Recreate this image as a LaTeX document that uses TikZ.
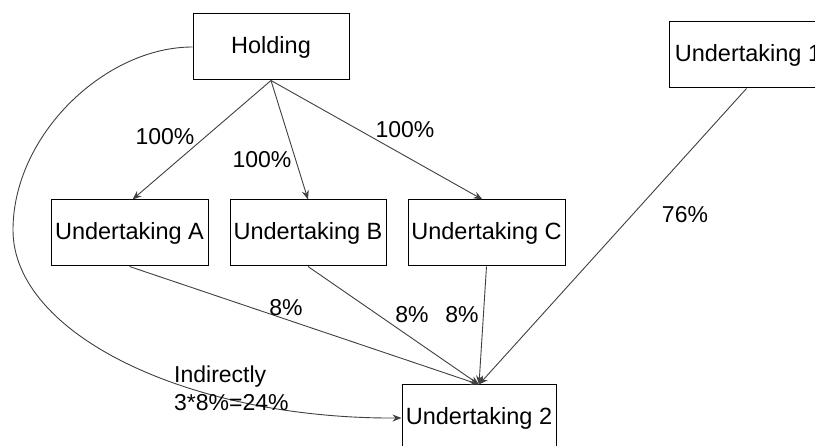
\documentclass[tikz,border=0pt]{standalone}
\usepackage{fontspec}
\setmainfont{Liberation Sans}
\usetikzlibrary{arrows.meta}
\begin{document}
\begin{tikzpicture}[x=1pt,y=-1pt,
  box/.style={draw=black,line width=1pt,minimum height=66pt,inner sep=0pt,font=\fontsize{23.5}{28}\selectfont},
  conn/.style={draw=black!75,line width=0.9pt,-{Stealth[length=9pt,width=7pt]}},
  lbl/.style={inner sep=0pt,font=\fontsize{23}{28}\selectfont}]
\useasboundingbox (0,0) rectangle (815,446);
\clip (0,0) rectangle (815,446);
\fill[white] (0,0) rectangle (815,446);
\node[box,minimum width=156pt] (H) at (271,47) {Holding};
\node[box,minimum width=158pt] (U1) at (748,55) {Undertaking 1};
\node[box,minimum width=157pt] (A) at (129.5,233) {Undertaking A};
\node[box,minimum width=156pt] (B) at (308,233) {Undertaking B};
\node[box,minimum width=157pt] (C) at (486.5,233) {Undertaking C};
\node[box,minimum width=154pt] (U2) at (479,418) {Undertaking 2};
\coordinate (K) at (13,230);
\draw[conn] (H.south) -- ([xshift=3pt]A.north);
\draw[conn] (H.south) -- (B.north);
\draw[conn] (H.south) -- ([xshift=-4pt]C.north);
\draw[conn] (A.south) -- (U2.north);
\draw[conn] (B.south) -- (U2.north);
\draw[conn] (C.south) -- (U2.north);
\draw[conn] ([xshift=-1.5pt]U1.south) -- (U2.north);
\draw[conn] (H.west) .. controls (105,47) and (13,135) .. (K)
  .. controls (13,334) and (188,419) .. (U2.west);
\node[lbl] (l1) at (165,137) {100\%};
\node[lbl] (l2) at (262,160) {100\%};
\node[lbl] (l3) at (405,130) {100\%};
\node[lbl] (l4) at (685,215) {76\%};
\node[lbl] (l5) at (286,308) {8\%};
\node[lbl] (l6) at (412,315) {8\%};
\node[lbl] (l7) at (462,315) {8\%};
\node[lbl,anchor=north west,align=left] (l8) at (174,366) {Indirectly\\3*8\%=24\%};
\end{tikzpicture}
\end{document}
